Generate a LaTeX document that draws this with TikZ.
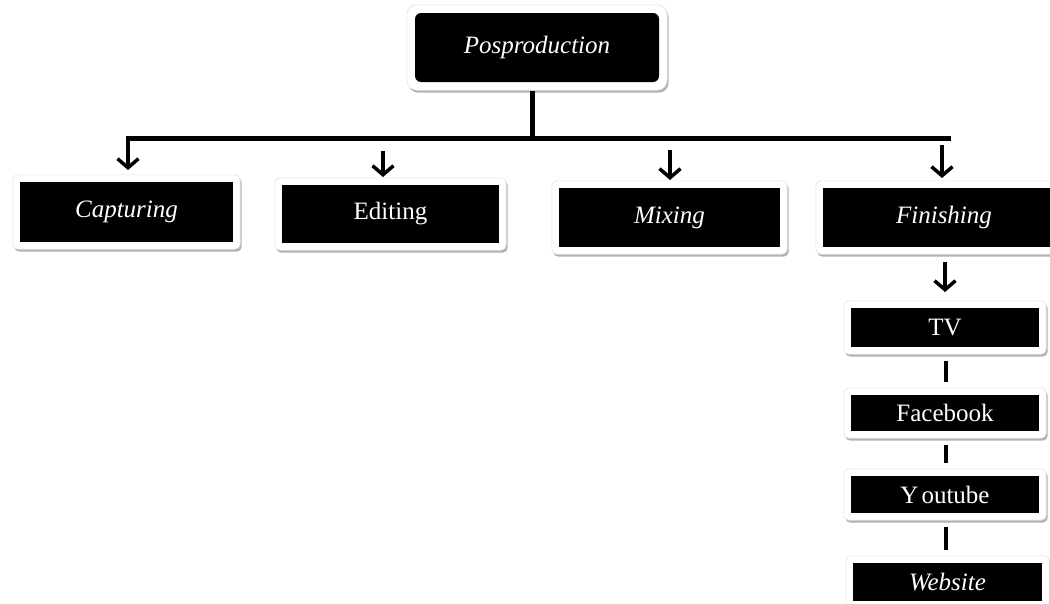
\documentclass[tikz,border=0pt]{standalone}
\usepackage{fontspec}
\setmainfont{Liberation Serif}
\usetikzlibrary{arrows.meta,shadows,fit,backgrounds}
\begin{document}
\begin{tikzpicture}[x=1pt,y=-1pt,
  inner/.style={fill=black, text=white, font=\fontsize{25}{28}\selectfont, inner sep=0pt, anchor=center},
  frame/.style={fill=white, draw=black!12, line width=0.6pt, rounded corners=5pt, inner sep=7pt,
    drop shadow={shadow xshift=1.5pt, shadow yshift=-2.5pt, opacity=0.3, fill=black}},
  bar/.style={line width=5pt},
  arr/.style={line width=3.5pt, -{Straight Barb[length=9pt,width=21pt]}},
  link/.style={line width=4pt, shorten <=6pt, shorten >=6pt}]
\useasboundingbox (0,0) rectangle (1050,603);
% inner black boxes
\node[inner, rounded corners=6pt, minimum width=244pt, minimum height=69pt] (post) at (537,47.5) {\itshape Posproduction};
\node[inner, minimum width=213pt, minimum height=60pt] (cap) at (126.5,212) {\itshape Capturing};
\node[inner, minimum width=217pt, minimum height=58pt] (edit) at (390.5,214) {Editing};
\node[inner, minimum width=221pt, minimum height=59pt] (mix) at (669.5,217.5) {\itshape Mixing};
\node[inner, minimum width=242pt, minimum height=59pt] (fin) at (944,217.5) {\itshape Finishing};
\node[inner, minimum width=188pt, minimum height=39pt] (tv) at (945,327.5) {TV};
\node[inner, minimum width=188pt, minimum height=36pt] (fb) at (945,413) {Facebook};
\node[inner, minimum width=188pt, minimum height=37pt] (yt) at (945,494.5) {Y\kern3pt outube};
\node[inner, minimum width=189pt, minimum height=38pt] (web) at (947.5,582) {\itshape Website};
% white frames with shadows
\begin{pgfonlayer}{background}
  \node[frame, rounded corners=10pt, inner xsep=8pt, inner ysep=8pt, fit=(post)] (postF) {};
  \node[frame, fit=(cap)] (capF) {};
  \node[frame, fit=(edit)] (editF) {};
  \node[frame, fit=(mix)] (mixF) {};
  \node[frame, fit=(fin)] (finF) {};
  \node[frame, fit=(tv)] (tvF) {};
  \node[frame, fit=(fb)] (fbF) {};
  \node[frame, fit=(yt)] (ytF) {};
  \node[frame, fit=(web)] (webF) {};
\end{pgfonlayer}
% connectors
\coordinate (jP) at (532,138);
\coordinate (jC) at (128,138);
\coordinate (jF) at (948,138);
\draw[bar] (postF.south -| jP) -- (jP);
\draw[bar, line cap=rect] (jC) -- (jF);
\draw[arr] (jC) -- (128,170);
\coordinate (aE) at (383,151);
\coordinate (aM) at (670,150);
\coordinate (aF) at (942,145);
\draw[arr] (aE) -- (383,177);
\draw[arr] (aM) -- (670,180);
\draw[arr] (aF) -- (942,178);
\coordinate (aT) at (945,262);
\draw[arr] (aT) -- (945,292);
\coordinate (lx) at (946,0);
\draw[link] (tvF.south -| lx) -- (fbF.north -| lx);
\draw[link] (fbF.south -| lx) -- (ytF.north -| lx);
\draw[link] (ytF.south -| lx) -- (webF.north -| lx);
\end{tikzpicture}
\end{document}
